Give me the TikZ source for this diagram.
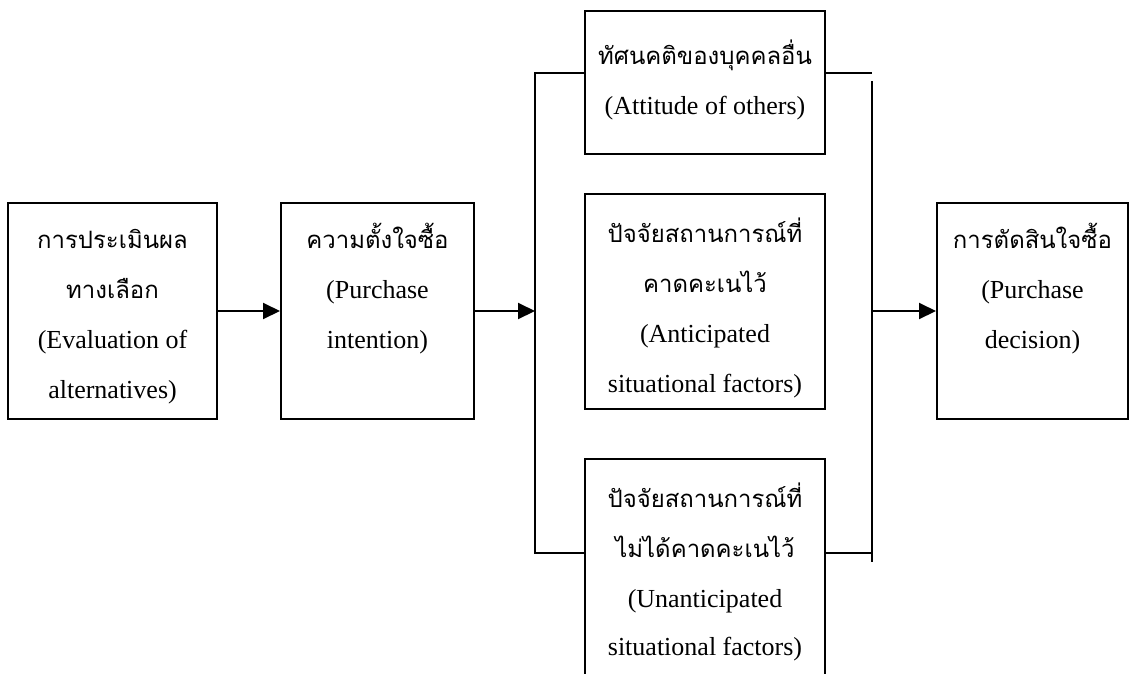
\documentclass[tikz,border=0pt]{standalone}
\usepackage{fontspec}
\setmainfont{Liberation Serif}
\newfontfamily\thaifont[Script=Thai,Scale=0.92]{Loma}
\usetikzlibrary{arrows.meta,calc}
\tikzset{
  stage/.style={
    draw=black,
    line width=2pt,
    inner sep=0pt,
    anchor=north west,
    font=\fontsize{26}{50}\selectfont
  },
  link/.style={line width=2pt},
  link-arrow/.style={
    link,
    -{Triangle[length=17pt,width=16pt]}
  }
}
% width, height, first baseline, lines
\newcommand{\stagetext}[4]{\parbox[t][#2][t]{#1}{\centering\rule{0pt}{#3}#4}}

\begin{document}
\begin{tikzpicture}[x=1pt,y=-1pt]
  \useasboundingbox (0,0) rectangle (1130,673);
  % Stages
  \node[stage] (eval) at (7,202)
    {\stagetext{209pt}{216pt}{45pt}{{\thaifont การประเมินผล}\\{\thaifont ทางเลือก}\\(Evaluation of\\alternatives)}};
  \node[stage] (intent) at (280,202)
    {\stagetext{193pt}{216pt}{45pt}{{\thaifont ความตั้งใจซื้อ}\\(Purchase\\intention)}};
  \node[stage] (others) at (584,10)
    {\stagetext{240pt}{143pt}{53pt}{{\thaifont ทัศนคติของบุคคลอื่น}\\(Attitude of others)}};
  \node[stage] (anticip) at (584,193)
    {\stagetext{240pt}{215pt}{48pt}{{\thaifont ปัจจัยสถานการณ์ที่}\\{\thaifont คาดคะเนไว้}\\(Anticipated\\situational factors)}};
  \node[stage] (unantic) at (584,458)
    {\stagetext{240pt}{240pt}{48pt}{{\thaifont ปัจจัยสถานการณ์ที่}\\{\thaifont ไม่ได้คาดคะเนไว้}\\(Unanticipated\\[-2pt]situational factors)}};
  \node[stage] (decision) at (936,202)
    {\stagetext{191pt}{216pt}{45pt}{{\thaifont การตัดสินใจซื้อ}\\(Purchase\\decision)}};
  % Left bracket
  \coordinate (LTop) at (535,73);
  \coordinate (LBot) at (535,553);
  \draw[link-arrow] (eval) -- (intent);
  \draw[link-arrow] (intent.east) -- (intent.east -| LTop);
  \draw[link] (LTop -| others.west) -- (LTop) -- (LBot) -- (LBot -| unantic.west);
  % Right bracket
  \coordinate (RTop) at (872,73);
  \coordinate (RBot) at (872,553);
  \draw[link] (RTop -| others.east) -- (RTop);
  \draw[link] (RBot -| unantic.east) -- (RBot);
  \draw[link] ($(RTop)+(0,8)$) -- ($(RBot)+(0,9)$);
  \draw[link-arrow] (decision.west -| RTop) -- (decision.west);
\end{tikzpicture}
\end{document}
